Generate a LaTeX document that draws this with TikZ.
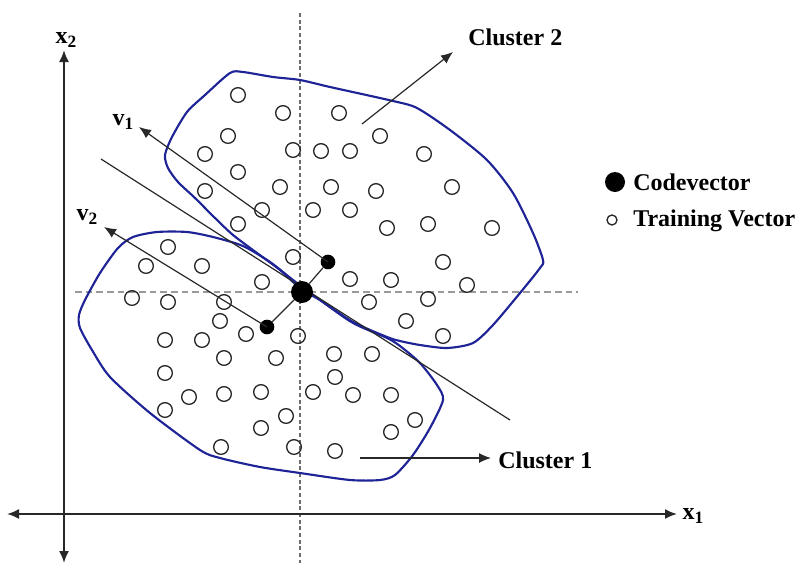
\documentclass[tikz,border=0pt]{standalone}
\usepackage{fontspec}
\setmainfont{Liberation Serif}
\usetikzlibrary{arrows.meta}
\definecolor{bnd}{RGB}{30,35,150}
\definecolor{ink}{RGB}{40,40,40}
\tikzset{
  px/.style={x=0.75pt,y=-0.75pt},
  tv/.style={circle,draw=ink,line width=1pt,minimum size=11pt,inner sep=0pt},
  cvbig/.style={circle,fill=black,minimum size=16.5pt,inner sep=0pt},
  cvsmall/.style={circle,fill=black,minimum size=11pt,inner sep=0pt},
  lbl/.style={font=\bfseries\fontsize{18}{20}\selectfont,inner sep=0pt},
  axislbl/.style={font=\bfseries\fontsize{18}{20}\selectfont,inner sep=0pt},
  axisline/.style={draw=ink,line width=1.4pt},
  thinline/.style={draw=ink,line width=0.9pt},
  tip/.tip={Latex[length=9pt,width=7.5pt]},
  arr/.style={-tip},
  guide/.style={draw=gray!80,line width=1.1pt,dash pattern=on 5pt off 3pt},
  vguide/.style={draw=gray!85!black,line width=1.1pt,dash pattern=on 3pt off 2pt},
  boundary/.style={draw=bnd,line width=1.6pt,line join=round},
}
\newcommand{\subdig}[1]{\raisebox{-0.3ex}{\fontsize{13}{14}\selectfont #1}}
\begin{document}
\begin{tikzpicture}[px]
\useasboundingbox (0,0) rectangle (804,565);
% dashed guides
\coordinate (vt) at (300,13);
\coordinate (vb) at (300,563);
\coordinate (hl) at (75,292);
\coordinate (hr) at (578,292);
\draw[vguide] (vt) -- (vb);
\draw[guide] (hl) -- (hr);
% cluster boundaries
\draw[boundary] plot[smooth cycle,tension=0.45] coordinates {
 (230,73) (243,72) (273,77) (300,80) (330,87) (393,101) (417,108) (450,130)
 (487,160) (513,193) (533,233) (543,260) (540,268) (520,293) (493,325)
 (473,343) (447,348) (420,345) (400,341) (387,337) (353,322) (320,300)
 (302,290) (280,270) (257,253) (233,235) (215,218) (195,198) (178,182)
 (168,168) (165,155) (172,137) (187,112) (205,95)};
\draw[boundary] plot[smooth cycle,tension=0.45] coordinates {
 (133,237) (157,232) (187,232) (213,237) (243,246) (270,262) (293,280)
 (320,300) (353,323) (387,338) (400,346) (420,363) (437,385) (443,400)
 (430,428) (413,455) (395,475) (380,480) (350,480) (300,473) (260,467)
 (220,458) (200,450) (150,413) (110,377) (92,350) (80,328) (79,315)
 (85,300) (100,273) (118,248)};
% separator line
\coordinate (s1) at (101,159);
\coordinate (s2) at (510,420);
\draw[thinline] (s1) -- (s2);
% axes
\coordinate (yb) at (64,563);
\coordinate (yt) at (64,50);
\coordinate (xl) at (7,514);
\coordinate (xr) at (677,514);
\draw[axisline,tip-tip] (yb) -- (yt);
\draw[axisline,tip-tip] (xl) -- (xr);
\node[axislbl] (x2) at (66,40) {x\subdig{2}};
\node[axislbl] (x1) at (693,516) {x\subdig{1}};
% training vectors
\foreach \p [count=\i] in {
 (238,95),(283,113),(339,113),(228,136),(380,136),(205,154),(293,150),
 (321,151),(350,151),(424,154),(238,172),(280,187),(331,187),(376,191),
 (452,187),(205,191),(262,210),(313,210),(350,210),(387,228),(428,224),
 (492,228),(238,224),(443,262),(293,257),(350,279),(391,280),(467,285),
 (262,282),(369,302),(428,299),(406,321),(443,336),
 (168,247),(146,266),(202,266),(132,298),(168,302),(224,302),(220,321),
 (246,334),(298,336),(165,340),(202,340),(224,358),(276,358),(334,354),
 (372,354),(335,377),(165,373),(189,397),(224,394),(261,392),(313,392),
 (353,395),(391,395),(165,410),(286,416),(415,420),(261,428),(391,432),
 (221,447),(294,447),(335,451)}
 { \node[tv] (t\i) at \p {}; }
% codevectors
\node[cvbig] (c0) at (302,292) {};
\node[cvsmall] (c1) at (328,262) {};
\node[cvsmall] (c2) at (267,327) {};
\draw[thinline] (c2) -- (c0) -- (c1);
% eigen-direction arrows
\coordinate (v1tip) at (139,127);
\coordinate (v2tip) at (104,227);
\draw[thinline,arr] (c1.center) -- (v1tip);
\draw[thinline,arr] (c2.center) -- (v2tip);
\node[axislbl] (v1) at (123,122) {v\subdig{1}};
\node[axislbl] (v2) at (87,217) {v\subdig{2}};
% cluster labels
\node[lbl,anchor=west] (cl2) at (468,37) {Cluster 2};
\node[lbl,anchor=west] (cl1) at (498,460) {Cluster 1};
\coordinate (a2s) at (362,124);
\coordinate (a2e) at (453,52);
\coordinate (a1s) at (360,458);
\coordinate (a1e) at (491,458);
\draw[thinline,arr] (a2s) -- (a2e);
\draw[thinline,arr] (a1s) -- (a1e);
% legend
\node[circle,fill=black,minimum size=15pt,inner sep=0pt] (lg1) at (615,182) {};
\node[circle,draw=ink,line width=1pt,minimum size=7.5pt,inner sep=0pt] (lg2) at (612,220) {};
\node[lbl,anchor=west] (lt1) at (633,182) {Codevector};
\node[lbl,anchor=west] (lt2) at (633,221) {Training Vector};
\end{tikzpicture}
\end{document}
